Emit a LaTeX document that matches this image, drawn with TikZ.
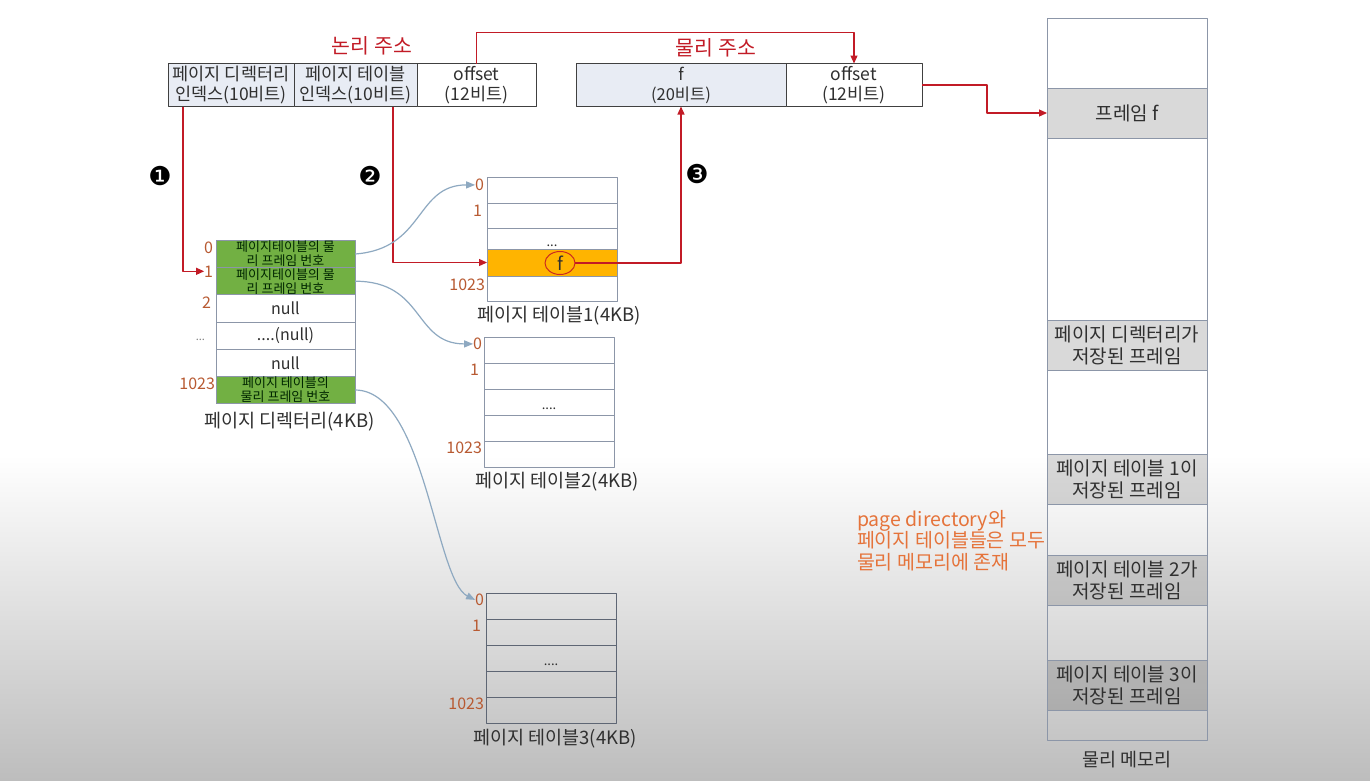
\documentclass[tikz,border=0pt]{standalone}
\usepackage{fontspec}
\setmainfont{Noto Sans CJK KR}
\newfontfamily\dingfont{DejaVu Sans}
\usetikzlibrary{positioning,arrows.meta,shapes.geometric}
\definecolor{addrfill}{HTML}{E8ECF4}
\definecolor{addrred}{HTML}{C21B26}
\definecolor{pdgreen}{HTML}{72B043}
\definecolor{idxbrown}{HTML}{B85A32}
\definecolor{hitorange}{HTML}{FFB400}
\definecolor{tblline}{HTML}{8C96A8}
\definecolor{tbldark}{HTML}{5E6674}
\definecolor{curvblue}{HTML}{8EA9C1}
\definecolor{noteorange}{HTML}{E5733A}
\definecolor{bggray}{HTML}{BDBDBD}
\definecolor{txtgray}{HTML}{303030}
\newcommand\fsz[2]{\fontsize{#1}{#2}\selectfont}
\begin{document}
\begin{tikzpicture}[x=1pt, y=-1pt, line join=round, >={Triangle[length=8pt,width=7pt]},
	every node/.style={inner sep=0pt, outer sep=0pt, text=txtgray},
	addr/.style={draw=black!75, line width=1pt, fill=addrfill, minimum height=43pt, align=center, font=\fsz{17.5}{20}},
	addrtitle/.style={text=addrred, font=\fsz{20.5}{20}},
	redline/.style={draw=addrred, line width=1.2pt, ->},
	pdrow/.style={draw=tblline, line width=1pt, minimum width=139pt, minimum height=27.2pt, align=center, font=\fsz{16}{16}},
	pdfull/.style={pdrow, fill=pdgreen, text=black!85!green, font=\fsz{13}{14}},
	trow/.style={draw=tblline, line width=1pt, minimum width=130pt},
	idx/.style={text=idxbrown, font=\fsz{16}{16}, anchor=north east},
	dotstxt/.style={font=\fsz{13}{13}, anchor=south},
	capt/.style={font=\fsz{18.5}{18}},
	linkcurve/.style={draw=curvblue, line width=1.2pt, ->, >={Triangle[length=9pt,width=7pt]}},
	memslot/.style={draw=tblline, line width=1pt, fill=black, fill opacity=0.15, text opacity=1, minimum width=160pt, minimum height=50pt, align=center, font=\fsz{19}{22}},
	numdot/.style={font=\dingfont\fsz{26}{26}, text=black}]
	% background
	\fill[white] (0,0) rectangle (1370,455);
	\shade[top color=white, bottom color=bggray] (0,455) rectangle (1370,780);
	\useasboundingbox (0,0) rectangle (1370,780);
	% logical address
	\node[addrtitle] (ltitle) at (372,46) {논리 주소};
	\node[addr, minimum width=126pt] (ldir) at (231,85) {페이지 디렉터리\\인덱스(10비트)};
	\node[addr, minimum width=123pt, right=0pt of ldir] (ltbl) {페이지 테이블\\인덱스(10비트)};
	\node[addr, minimum width=119pt, fill=white, right=0pt of ltbl] (loff) {offset\\(12비트)};
	% physical address
	\node[addrtitle] (ptitle) at (716,48) {물리 주소};
	\node[addr, minimum width=210pt, font=\fsz{16.5}{20}] (pf) at (681,85) {f\\(20비트)};
	\node[addr, minimum width=136pt, fill=white, right=0pt of pf] (poff) {offset\\(12비트)};
	% physical memory
	\node[draw=tblline, line width=1pt, minimum width=160pt, minimum height=722pt] (mem) at (1127,379) {};
	\node[memslot] (mf) at (1127,113) {프레임 f};
	\node[memslot] (mdir) at (1127,345) {페이지 디렉터리가\\저장된 프레임};
	\node[memslot] (mpt1) at (1127,479) {페이지 테이블 1이\\저장된 프레임};
	\node[memslot] (mpt2) at (1127,580) {페이지 테이블 2가\\저장된 프레임};
	\node[memslot] (mpt3) at (1127,685) {페이지 테이블 3이\\저장된 프레임};
	\node[capt, below=11pt of mem] (memcap) {물리 메모리};
	\node[text=noteorange, font=\fsz{19.5}{21.5}, align=left, anchor=north west] (note) at (857,510) {page directory와\\페이지 테이블들은 모두\\물리 메모리에 존재};
	% page directory
	\node[pdfull] (pd0) at (285.5,254) {페이지테이블의 물\\리 프레임 번호};
	\node[pdfull, below=0pt of pd0] (pd1) {페이지테이블의 물\\리 프레임 번호};
	\node[pdrow, below=0pt of pd1] (pd2) {null};
	\node[pdrow, below=0pt of pd2] (pd3) {....(null)};
	\node[pdrow, below=0pt of pd3] (pd4) {null};
	\node[pdfull, below=0pt of pd4] (pd5) {페이지 테이블의\\물리 프레임 번호};
	\node[capt, below=9pt of pd5, xshift=4pt] (pdcap) {페이지 디렉터리(4KB)};
	\node[idx] (d0) at ([xshift=-3pt,yshift=-1pt]pd0.north west) {0};
	\node[idx] (d1) at ([xshift=-3pt,yshift=2pt]pd1.north west) {1};
	\node[idx] (d2) at ([xshift=-5pt,yshift=-2pt]pd2.north west) {2};
	\node[text=gray, font=\fsz{11}{11}, anchor=east] (d3) at ([xshift=-11pt,yshift=-4pt]pd3.west) {...};
	\node[idx] (d5) at ([xshift=-1pt,yshift=-1pt]pd5.north west) {1023};
	% page table 1
	\node[trow, minimum height=26pt] (pt1r0) at (552,190) {};
	\node[trow, minimum height=25pt, below=0pt of pt1r0] (pt1r1) {};
	\node[trow, minimum height=21pt, below=0pt of pt1r1] (pt1r2) {};
	\node[trow, minimum height=27pt, fill=hitorange, below=0pt of pt1r2] (pt1r3) {};
	\node[trow, minimum height=25pt, below=0pt of pt1r3] (pt1r4) {};
	\node[dotstxt] (pt1d) at ([yshift=2pt]pt1r2.south) {...};
	\node[ellipse, draw=addrred!85!orange, line width=1pt, minimum width=30pt, minimum height=23pt, font=\fsz{18}{18}] (fc) at (560,263) {f};
	\node[capt, below=5pt of pt1r4, xshift=7pt] (pt1cap) {페이지 테이블1(4KB)};
	\node[idx] (t10) at ([xshift=-3pt,yshift=-2pt]pt1r0.north west) {0};
	\node[idx] (t11) at ([xshift=-5pt,yshift=-2pt]pt1r1.north west) {1};
	\node[idx] (t14) at ([xshift=-2pt,yshift=-3pt]pt1r4.north west) {1023};
	% page table 2
	\foreach \i in {0,...,4}
		\node[trow, minimum height=26pt] (pt2r\i) at (549,{350+26*\i}) {};
	\node[dotstxt] (pt2d) at ([yshift=5pt]pt2r2.south) {....};
	\node[capt, below=5pt of pt2r4, xshift=8pt] (pt2cap) {페이지 테이블2(4KB)};
	\node[idx] (t20) at ([xshift=-2pt,yshift=-1pt]pt2r0.north west) {0};
	\node[idx] (t21) at ([xshift=-5pt,yshift=-1pt]pt2r1.north west) {1};
	\node[idx] (t24) at ([xshift=-2pt,yshift=-1pt]pt2r4.north west) {1023};
	% page table 3
	\foreach \i in {0,...,4}
		\node[trow, draw=tbldark, minimum height=26pt] (pt3r\i) at (551,{606+26*\i}) {};
	\node[dotstxt] (pt3d) at ([yshift=5pt]pt3r2.south) {....};
	\node[capt, below=6pt of pt3r4, xshift=4pt] (pt3cap) {페이지 테이블3(4KB)};
	\node[idx] (t30) at ([xshift=-2pt,yshift=-1pt]pt3r0.north west) {0};
	\node[idx] (t31) at ([xshift=-5pt,yshift=-1pt]pt3r1.north west) {1};
	\node[idx] (t34) at ([xshift=-2pt,yshift=-1pt]pt3r4.north west) {1023};
	% steps
	\node[numdot] (n1) at (160,176) {❶};
	\node[numdot] (n2) at (370,176) {❷};
	\node[numdot] (n3) at (697,174) {❸};
	% red connectors
	\draw[redline] ([xshift=15pt]ldir.south west) |- (d1.west);
	\draw[redline] ([xshift=-24pt]ltbl.south east) |- (pt1r3.west);
	\draw[redline] (fc.east) -| (pf.south);
	\draw[redline] (loff.north) -- ++(0,-31) -| (poff.north);
	\draw[redline] (poff.east) -- ++(65,0) |- (mf.west);
	% directory entries to tables
	\draw[linkcurve] (pd0.east) .. controls +(70,-5) and +(-60,0) .. (t10.west);
	\draw[linkcurve] (pd1.east) .. controls +(70,0) and +(-60,0) .. (t20.west);
	\draw[linkcurve] (pd5.east) .. controls +(70,0) and +(-40,-20) .. (t30.west);
\end{tikzpicture}
\end{document}
